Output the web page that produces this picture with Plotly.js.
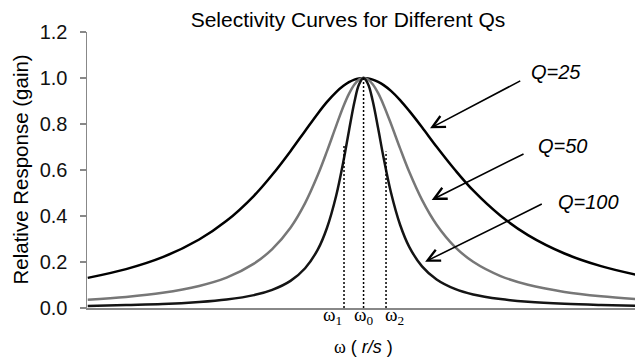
<!DOCTYPE html>
<html><head><meta charset="utf-8">
<script src="https://cdn.plot.ly/plotly-3.0.1.min.js"></script>
<style>html,body{margin:0;padding:0;background:#fff}#chart{width:635px;height:358px}</style>
</head><body><div id="chart"></div>
<script>
// angular frequency (r/s), resonance at omega0 = 1000
const omega    = [849, 870, 890, 910, 925, 940, 950, 960, 968, 975, 980, 985, 989, 992, 995, 997.5, 1000,
                  1002.5, 1005, 1008, 1011, 1015, 1020, 1025, 1032, 1040, 1050, 1060, 1075, 1090, 1110, 1130, 1149];
const gainQ25  = [0.131, 0.169, 0.221, 0.298, 0.379, 0.488, 0.579, 0.682, 0.770, 0.846, 0.896, 0.939, 0.966, 0.982, 0.993, 0.998, 1.0,
                  0.998, 0.993, 0.983, 0.969, 0.944, 0.904, 0.857, 0.786, 0.701, 0.601, 0.511, 0.401, 0.317, 0.237, 0.182, 0.145];
const gainQ50  = [0.036, 0.048, 0.066, 0.096, 0.132, 0.193, 0.256, 0.349, 0.456, 0.579, 0.682, 0.792, 0.877, 0.931, 0.972, 0.993, 1.0,
                  0.993, 0.973, 0.934, 0.882, 0.801, 0.694, 0.592, 0.470, 0.362, 0.266, 0.201, 0.139, 0.101, 0.070, 0.051, 0.039];
const gainQ100 = [0.009, 0.013, 0.017, 0.026, 0.037, 0.056, 0.079, 0.118, 0.173, 0.255, 0.349, 0.488, 0.639, 0.770, 0.896, 0.972, 1.0,
                  0.973, 0.901, 0.780, 0.652, 0.502, 0.362, 0.266, 0.181, 0.124, 0.083, 0.059, 0.039, 0.027, 0.018, 0.013, 0.010];
const seriesNames  = ['Q=25', 'Q=50', 'Q=100'];
const seriesColors = ['#000000', '#777777', '#141414'];

// marked frequencies omega1, omega0, omega2
const markOmega  = [989.3, 1000, 1012.3];
const markTop    = [0.71, 1.0, 0.68];
const markLabels = ['ω<sub>1</sub>', 'ω<sub>0</sub>', 'ω<sub>2</sub>'];

// callout arrows
const arrowHeadOmega = [1036.4, 1037.3, 1033.7];
const arrowHeadGain  = [0.781, 0.47, 0.201];
const arrowTailOmega = [1086.6, 1088.4, 1098.4];
const arrowTailGain  = [0.991, 0.673, 0.455];
const labelOmega     = [1090.6, 1094.4, 1105.4];
const labelGain      = [1.024, 0.704, 0.459];

const gains = [gainQ25, gainQ50, gainQ100];
const traces = [];
gains.forEach((g, i) => traces.push({
  x: omega, y: g, type: 'scatter', mode: 'lines', name: seriesNames[i],
  line: {color: seriesColors[i], width: 2.5, shape: 'spline', smoothing: 1},
  hoverinfo: 'skip'
}));
markOmega.forEach((w, i) => traces.push({
  x: [w, w], y: [0, markTop[i]], type: 'scatter', mode: 'lines',
  line: {color: '#000', width: 1.5, dash: '2px,2px'}, hoverinfo: 'skip'
}));

const annotations = [];
seriesNames.forEach((n, i) => {
  annotations.push({
    x: arrowHeadOmega[i], y: arrowHeadGain[i], xref: 'x', yref: 'y',
    ax: arrowTailOmega[i], ay: arrowTailGain[i], axref: 'x', ayref: 'y',
    showarrow: true, arrowhead: 5, arrowsize: 1.5, arrowwidth: 1.6, arrowcolor: '#000', text: ''
  });
  annotations.push({
    x: labelOmega[i], y: labelGain[i], xref: 'x', yref: 'y', xanchor: 'left', yanchor: 'middle',
    showarrow: false, text: '<i>' + n + '</i>',
    font: {family: 'Liberation Sans, Arial, sans-serif', size: 20, color: '#000'}
  });
});
const labelShift = [-12, 0, 8];
markLabels.forEach((t, i) => annotations.push({
  x: markOmega[i], y: 0, xref: 'x', yref: 'y', xanchor: 'center', yanchor: 'top',
  xshift: labelShift[i], yshift: 6, showarrow: false, text: t,
  font: {family: 'Liberation Serif, Times New Roman, serif', size: 19, color: '#000'}
}));
annotations.push({
  x: markOmega[1], y: 0, xref: 'x', yref: 'paper', xanchor: 'center', yanchor: 'bottom',
  yshift: -50, borderpad: 0, showarrow: false,
  text: '<span style="font-family:Liberation Serif">ω</span> ( <i>r/s</i> )',
  font: {family: 'Liberation Sans, Arial, sans-serif', size: 18, color: '#000'}
});
annotations.push({
  x: (19.5 - 87) / 548, y: 0.5, xref: 'paper', yref: 'paper', xanchor: 'center', yanchor: 'middle',
  textangle: -90, showarrow: false, text: 'Relative Response (gain)',
  font: {family: 'Liberation Sans, Arial, sans-serif', size: 20.5, color: '#000'}
});

const layout = {
  width: 635, height: 358,
  margin: {l: 87, r: 0, t: 32, b: 50, pad: 0},
  paper_bgcolor: '#fff', plot_bgcolor: '#fff',
  showlegend: false,
  title: {text: 'Selectivity Curves for Different Qs', x: 348 / 635, xanchor: 'center',
          y: 1 - 20 / 358, yanchor: 'middle', yref: 'container',
          font: {family: 'Liberation Sans, Arial, sans-serif', size: 21, color: '#000'}},
  xaxis: {range: [848.6, 1148.6], showgrid: false, zeroline: false, showticklabels: false,
          ticks: '', showline: true, linecolor: '#888', linewidth: 2},
  yaxis: {range: [0, 1.2], dtick: 0.2, tick0: 0, tickformat: '.1f', showgrid: false, zeroline: false,
          showline: true, linecolor: '#888', linewidth: 1.5, ticks: 'outside', ticklen: 6,
          tickcolor: '#888', tickwidth: 1.5, ticklabelstandoff: 8,
          tickfont: {family: 'Liberation Sans, Arial, sans-serif', size: 20, color: '#111'}},
  annotations: annotations
};
Plotly.newPlot('chart', traces, layout, {staticPlot: true, displayModeBar: false});
</script></body></html>
